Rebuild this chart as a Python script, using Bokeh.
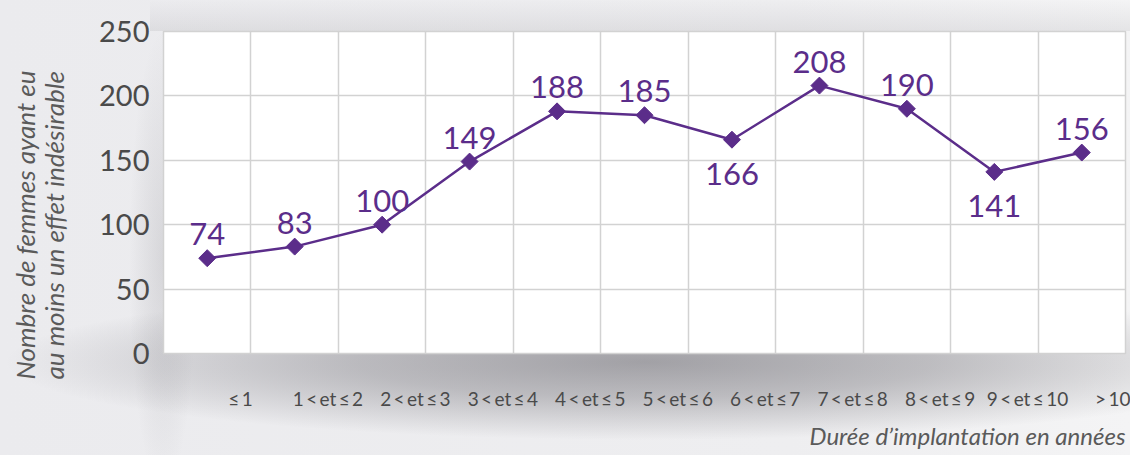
from math import pi
from bokeh.plotting import figure
from bokeh.models import Range1d, FixedTicker, Title, ColumnDataSource
from bokeh.core.properties import value
from bokeh.embed import file_html
from bokeh.resources import INLINE

categories = ["≤\u20091", "1\u2009<\u2009et\u2009≤\u20092", "2\u2009<\u2009et\u2009≤\u20093", "3\u2009<\u2009et\u2009≤\u20094",
              "4\u2009<\u2009et\u2009≤\u20095", "5\u2009<\u2009et\u2009≤\u20096", "6\u2009<\u2009et\u2009≤\u20097",
              "7\u2009<\u2009et\u2009≤\u20098", "8\u2009<\u2009et\u2009≤\u20099", "9\u2009<\u2009et\u2009≤\u200910", ">\u200910"]
values = [74, 83, 100, 149, 188, 185, 166, 208, 190, 141, 156]
label_below = [False, False, False, False, False, False, True, False, False, True, False]
y_ticks = [0, 50, 100, 150, 200, 250]
y_title = ["Nombre de femmes ayant eu", "au moins un effet indésirable"]
x_title = "Durée d\u2019implantation en années"

PURPLE = "#5b2d8a"
FONT = "Lato"

n = len(categories)
xs = [i + 0.5 for i in range(n)]

p = figure(width=1130, height=455, output_backend="svg", toolbar_location=None,
           x_range=Range1d(0, n), y_range=Range1d(0, 250),
           min_border_left=163, min_border_right=5, min_border_top=31, min_border_bottom=93)

p.styles = {"background":
            "radial-gradient(ellipse 640px 78px at 645px 362px, rgba(72,70,78,0.46), rgba(72,70,78,0.30) 45%, rgba(72,70,78,0)),"
            "radial-gradient(ellipse 34px 230px at 163px 260px, rgba(72,70,78,0.13), rgba(72,70,78,0)),"
            "linear-gradient(to bottom, rgba(72,70,78,0), rgba(72,70,78,0.09)) 150px 0px / 980px 31px no-repeat,"
            "linear-gradient(to right, #ebebee, #eeeef0 70%, #f4f4f5)"}
p.border_fill_alpha = 0
p.background_fill_color = "white"
p.outline_line_color = "#d2d2d2"
p.outline_line_width = 1.5

# grid
p.xgrid.ticker = FixedTicker(ticks=list(range(1, n)))
p.xgrid.grid_line_color = "#d2d2d2"
p.xgrid.grid_line_width = 1.5
p.ygrid.ticker = FixedTicker(ticks=y_ticks)
p.ygrid.grid_line_color = "#d2d2d2"
p.ygrid.grid_line_width = 1.5

# x axis: labels sit near the right grid line of each band
tick_pos = [i + 0.88 for i in range(n)]
p.xaxis.ticker = FixedTicker(ticks=tick_pos)
p.xaxis.major_label_overrides = {t: c for t, c in zip(tick_pos, categories)}
p.xaxis.axis_line_color = None
p.xaxis.major_tick_line_color = None
p.xaxis.minor_tick_line_color = None
p.xaxis.major_label_text_font = FONT
p.xaxis.major_label_text_font_size = "19px"
p.xaxis.major_label_text_color = "#4a4a4a"
p.xaxis.major_label_standoff = 27

# y axis (a blank axis label only widens the axis panel)
p.yaxis.ticker = FixedTicker(ticks=y_ticks)
p.yaxis.axis_line_color = None
p.yaxis.major_tick_line_color = None
p.yaxis.minor_tick_line_color = None
p.yaxis.major_label_text_font = FONT
p.yaxis.major_label_text_font_size = "29px"
p.yaxis.major_label_text_color = "#4a4a4a"
p.yaxis.major_label_standoff = 8
p.yaxis.axis_label = " "
p.yaxis.axis_label_standoff = 1
p.yaxis.axis_label_text_font_size = "14px"

# y-axis title: two vertical lines, aligned at their start (bottom)
p.add_layout(Title(text="\n".join(y_title), align="left", offset=-26, standoff=12,
                   text_font=FONT, text_font_style="italic", text_line_height=0.92,
                   text_font_size="26px", text_color="#5a5a5a"), "left")

p.add_layout(Title(text=x_title, align="right",
                   text_font=FONT, text_font_style="italic", text_font_size="24px",
                   text_color="#5a5a5a", standoff=12), "below")

src = ColumnDataSource(dict(x=xs, y=values,
                            t=[str(v) for v in values],
                            off=[34 if b else -24 for b in label_below]))
p.line("x", "y", source=src, line_color=PURPLE, line_width=2.5)
p.scatter("x", "y", source=src, marker="square", angle=pi / 4, size=12,
          fill_color=PURPLE, line_color=PURPLE)
p.text("x", "y", text="t", source=src, y_offset="off", text_align="center",
       text_baseline="alphabetic", text_font=value(FONT), text_font_size="31px",
       text_color=PURPLE)

open("out.html", "w").write(file_html(p, INLINE))
